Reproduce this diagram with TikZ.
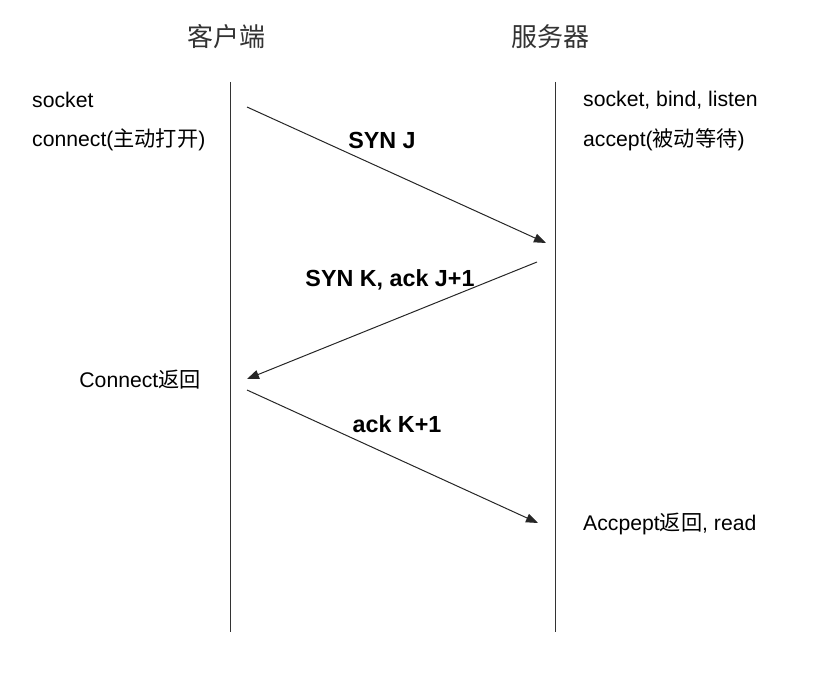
\documentclass[tikz,border=0pt]{standalone}
\usepackage{fontspec}
\setmainfont{Liberation Sans}
\newfontfamily\cjk{Noto Sans CJK SC}
\usetikzlibrary{arrows.meta}
\tikzset{
  lifeline/.style={draw=black!80, line width=1pt},
  msg/.style={draw=black!85, line width=1pt, -{Triangle[length=12pt,width=9pt]}},
  lbl/.style={font=\fontsize{21.2}{25}\selectfont, inner sep=0pt, anchor=west},
  msglbl/.style={font=\fontsize{23.3}{27}\selectfont\bfseries, inner sep=0pt},
  ttl/.style={font=\fontsize{26}{30}\selectfont\cjk, inner sep=0pt, text=black!80}
}
\begin{document}
\begin{tikzpicture}[x=1pt,y=-1pt]
\useasboundingbox (0,0) rectangle (830,674);
\node[ttl] (tc) at (226,37) {客户端};
\node[ttl] (ts) at (550,37) {服务器};
\coordinate (c0) at (230,82);
\coordinate (c1) at (230,632);
\coordinate (s0) at (555,82);
\coordinate (s1) at (555,632);
\draw[lifeline] (c0) -- (c1);
\draw[lifeline] (s0) -- (s1);
\node[lbl] (l1) at (32,100) {socket};
\node[lbl] (l2) at (32,140) {connect({\cjk 主动打开})};
\node[lbl] (r1) at (583,100) {socket, bind, listen};
\node[lbl] (r2) at (583,140) {accept({\cjk 被动等待})};
\node[lbl, anchor=east] (l3) at (201,380) {Connect{\cjk 返回}};
\node[lbl] (r3) at (583,524) {Accpept{\cjk 返回}, read};
\coordinate (a1s) at (247,107);
\coordinate (a1e) at (546,243);
\coordinate (a2s) at (537,262);
\coordinate (a2e) at (247,379);
\coordinate (a3s) at (247,390);
\coordinate (a3e) at (538,523);
\draw[msg] (a1s) -- (a1e);
\draw[msg] (a2s) -- (a2e);
\draw[msg] (a3s) -- (a3e);
\node[msglbl] (m1) at (382,140) {SYN J};
\node[msglbl] (m2) at (390,280) {SYN K, ack J+1};
\node[msglbl] (m3) at (397,424) {ack K+1};
\end{tikzpicture}
\end{document}
